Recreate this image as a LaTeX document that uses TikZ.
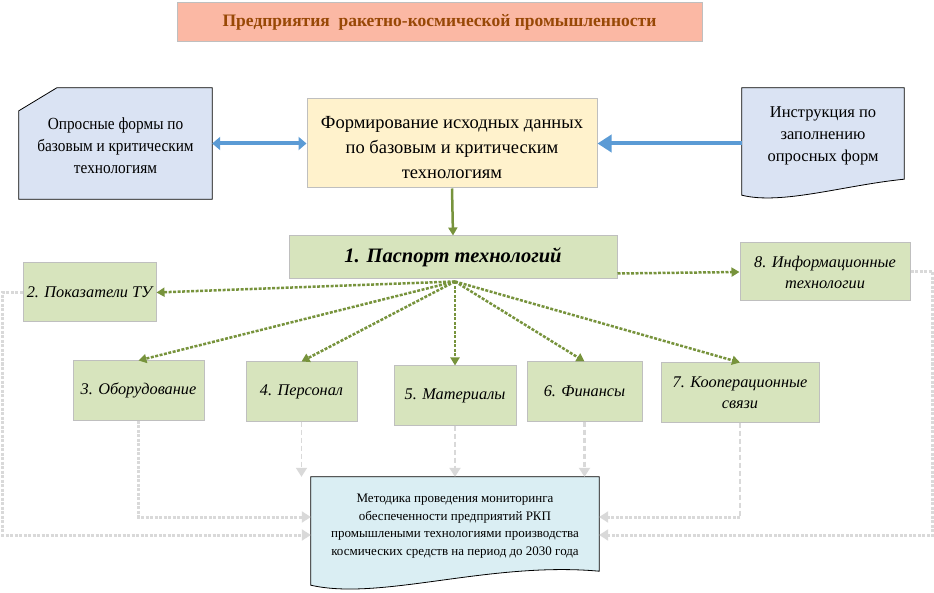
\documentclass[tikz,border=0pt]{standalone}
\usepackage{fontspec}
\setmainfont{Liberation Serif}
\usetikzlibrary{arrows.meta,calc,backgrounds}
\definecolor{titlefill}{RGB}{251,184,164}
\definecolor{titletext}{RGB}{152,72,6}
\definecolor{greenfill}{RGB}{215,228,189}
\definecolor{yellowfill}{RGB}{255,242,204}
\definecolor{docblue}{RGB}{218,227,243}
\definecolor{methodblue}{RGB}{218,238,243}
\definecolor{boxline}{RGB}{191,191,191}
\definecolor{arrowblue}{RGB}{91,155,213}
\definecolor{olivegreen}{RGB}{119,147,60}
\definecolor{lgray}{RGB}{217,217,217}
\begin{document}
\begin{tikzpicture}[x=1pt,y=-1pt,
  greenbox/.style={draw=boxline, line width=1pt, fill=greenfill, inner sep=1pt, align=center,
     font=\fontsize{16.3}{21}\selectfont\itshape},
  doctext/.style={inner sep=0pt, align=center},
  blueline/.style={draw=arrowblue, line width=4pt},
  greendot/.style={draw=olivegreen, line width=2.5pt, dash pattern=on 3pt off 1.5pt,
     -{Triangle[length=8pt,width=9pt]}},
  graythick/.style={draw=lgray, line width=3pt, dash pattern=on 3pt off 1.5pt},
  graythin/.style={draw=lgray, line width=1.5pt, dash pattern=on 5pt off 3pt},
  graymid/.style={draw=lgray, line width=2.5pt, dash pattern=on 5pt off 3pt},
  graytip/.style={-{Triangle[length=9pt,width=11pt]}}
]
\useasboundingbox (0,0) rectangle (934,593);

% title
\node[draw=boxline, line width=1pt, fill=titlefill, minimum width=525, minimum height=39,
  font=\fontsize{17.5}{20}\selectfont\bfseries, text=titletext] (title) at (439.5,22.5)
  {Предприятия\ \ ракетно-космической промышленности};

% data forming
\node[draw=boxline, line width=1pt, fill=yellowfill, minimum width=290, minimum height=89] (form) at (452,143.5) {};
\node[inner sep=0pt, align=center, font=\fontsize{18.5}{25}\selectfont] (formtext) at ($(form.center)+(0,4)$)
  {Формирование исходных данных\\по базовым и критическим\\технологиям};

% left document
\node[doctext, minimum width=193, minimum height=111] (qform) at (115.5,143.5) {};
\node[doctext, font=\fontsize{17}{22}\selectfont] (qformtext) at ($(qform.center)+(0,3.5)$)
  {\scalebox{0.9}[1]{\begin{tabular}{@{}c@{}}Опросные формы по\\базовым и критическим\\технологиям\end{tabular}}};
% right document
\node[doctext, minimum width=162, minimum height=107] (instr) at (823,141.5) {};
\node[doctext, font=\fontsize{16.5}{22}\selectfont] (instrtext) at ($(instr.center)+(0,-6)$)
  {Инструкция по\\заполнению\\опросных форм};
% bottom document
\node[inner sep=0pt, minimum width=288, minimum height=98, align=center,
  font=\fontsize{13}{17.5}\selectfont] (method) at (455,526)
  {Методика проведения мониторинга\\обеспеченности предприятий РКП\\промышлеными технологиями производства\\космических средств на период до 2030 года};

\begin{scope}[on background layer]
  \path[draw=black, line width=0.8pt, fill=docblue]
    ($(qform.north west)+(38,0)$) -- (qform.north east) -- (qform.south east)
    -- (qform.south west) -- ($(qform.north west)+(0,23)$) -- cycle;
  \path[draw=black, line width=0.8pt, fill=docblue]
    (instr.north west) -- (instr.north east) -- ($(instr.south east)+(0,-16)$)
    .. controls ($(instr.south east)+(-60,-10)$) and ($(instr.south west)+(40,10)$) .. (instr.south west)
    -- cycle;
  \path[draw=black, line width=0.8pt, fill=methodblue]
    (method.north west) -- (method.north east) -- ($(method.south east)+(0,-4)$)
    .. controls ($(method.south east)+(-110,-14)$) and ($(method.south west)+(70,26)$) .. ($(method.south west)+(0,10)$)
    -- cycle;
\end{scope}

% passport
\node[draw=boxline, line width=1pt, fill=greenfill, minimum width=328, minimum height=43,
  font=\fontsize{20.5}{24}\selectfont\bfseries\itshape] (pass) at (453,257.5)
  {1. Паспорт технологий};

% component boxes
\node[greenbox, minimum width=133, minimum height=59] (b2) at (89.5,292.5) {2. Показатели ТУ};
\node[greenbox, minimum width=131, minimum height=59] (b3) at (138.5,390.5) {3. Оборудование};
\node[greenbox, minimum width=111, minimum height=59] (b4) at (301.5,391.5) {4. Персонал};
\node[greenbox, minimum width=122, minimum height=59] (b5) at (455,395.5) {5. Материалы};
\node[greenbox, minimum width=115, minimum height=59] (b6) at (584.5,391.5) {6. Финансы};
\node[greenbox, minimum width=158, minimum height=59] (b7) at (740,392.5) {7. Кооперационные\\связи};
\node[greenbox, minimum width=170, minimum height=58] (b8) at (825,272) {8. Информационные\\технологии};

% blue arrows
\draw[blueline, {Triangle[length=8pt,width=13pt]}-{Triangle[length=8pt,width=13pt]}]
  (qform.east) -- (form.west);
\draw[blueline, -{Triangle[length=14pt,width=17pt]}] (form.east -| instr.west) -- (form.east);

% green solid arrow
\draw[draw=olivegreen, line width=2.5pt, -{Triangle[length=8pt,width=9pt]}] (form.south) -- (pass.north);

% green dotted arrows
\coordinate (hub) at ($(pass.south)+(2,2)$);
\draw[greendot] (hub) -- (b2.east);
\draw[greendot] (hub) -- (b3.north);
\draw[greendot] (hub) -- (b4.north);
\draw[greendot] (hub) -- (b5.north);
\draw[greendot] (hub) -- (b6.north);
\draw[greendot] (hub) -- (b7.north);
\draw[greendot] ($(pass.south east)+(0,-6)$) -- (b8.west);

% gray connectors to the bottom document
\coordinate (inL1) at ($(method.west)+(0,-9)$);
\coordinate (inL2) at ($(method.west)+(0,9)$);
\coordinate (inR1) at ($(method.east)+(0,-9)$);
\coordinate (inR2) at ($(method.east)+(0,9)$);
\draw[graythick, graytip] (b3.south) |- (inL1);
\draw[graythin, graytip] (b4.south) -- (b4.south |- method.north);
\draw[graymid, graytip] (b5.south) -- (b5.south |- method.north);
\draw[graymid, graytip] (b6.south) -- (b6.south |- method.north);
\draw[graythin] (b7.south) -- (b7.south |- inR1);
\draw[graythick, graytip] (b7.south |- inR1) -- (inR1);
\draw[graythick, graytip] (b2.west) -- ++(-20,0) |- (inL2);
\draw[graythick, graytip] (b8.east) -- ++(22,0) |- (inR2);
\end{tikzpicture}
\end{document}
